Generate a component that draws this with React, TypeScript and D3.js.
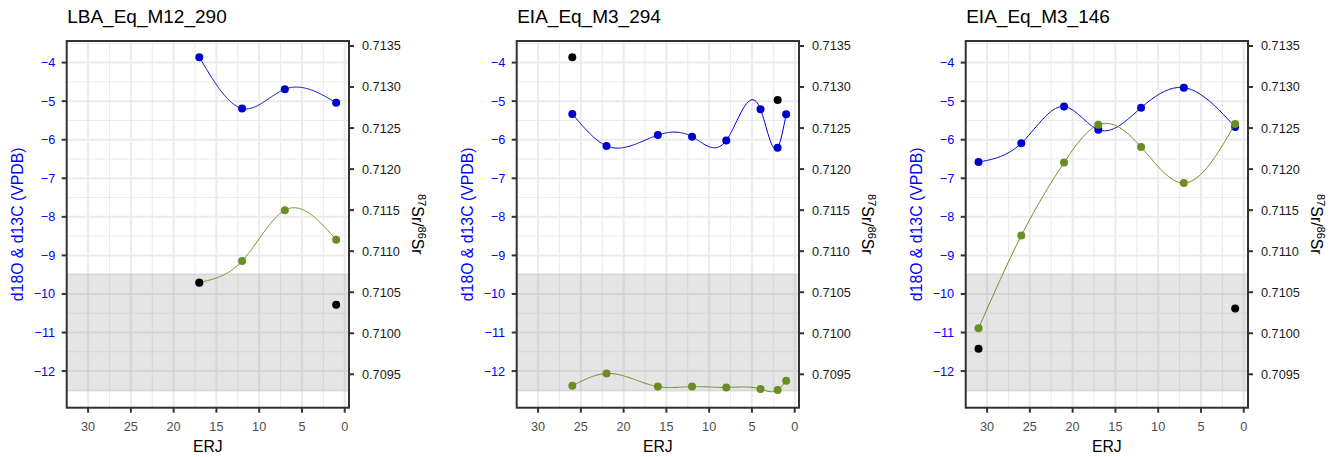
import React, { useEffect } from "react";
import * as d3 from "d3";

// ---------- data ----------
const panelTitles = ["LBA_Eq_M12_290", "EIA_Eq_M3_294", "EIA_Eq_M3_146"];

// blue series (primary axis, ‰ VPDB)
const blueErj1 = [17, 12, 7, 1];
const blueVal1 = [-3.86, -5.19, -4.69, -5.04];
const blueErj2 = [26, 22, 16, 12, 8, 4, 2, 1];
const blueVal2 = [-5.33, -6.16, -5.88, -5.92, -6.02, -5.21, -6.21, -5.34];
const blueErj3 = [31, 26, 21, 17, 12, 7, 1];
const blueVal3 = [-6.58, -6.09, -5.14, -5.74, -5.17, -4.65, -5.67];

// green series (87Sr/86Sr, secondary axis)
const srErj1 = [17, 12, 7, 1];
const srVal1 = [0.71062, 0.71088, 0.7115, 0.71114];
const srErj2 = [26, 22, 16, 12, 8, 4, 2, 1];
const srVal2 = [0.70936, 0.70951, 0.70935, 0.70935, 0.70934, 0.70932, 0.70931, 0.70942];
const srErj3 = [31, 26, 21, 17, 12, 7, 1];
const srVal3 = [0.71006, 0.71119, 0.71208, 0.71254, 0.71227, 0.71183, 0.71255];

// black points (primary axis)
const blackErj1 = [17, 1];
const blackVal1 = [-9.71, -10.28];
const blackErj2 = [26, 2];
const blackVal2 = [-3.86, -4.97];
const blackErj3 = [31, 1];
const blackVal3 = [-11.42, -10.38];

// shaded band (87Sr/86Sr)
const srBand = [0.70929, 0.71073];

// ticks
const xTicks = [30, 25, 20, 15, 10, 5, 0];
const xMinor = [32.5, 27.5, 22.5, 17.5, 12.5, 7.5, 2.5];
const yTicks = [-4, -5, -6, -7, -8, -9, -10, -11, -12];
const yMinor = [-3.5, -4.5, -5.5, -6.5, -7.5, -8.5, -9.5, -10.5, -11.5, -12.5];
const srTicks = [0.7135, 0.713, 0.7125, 0.712, 0.7115, 0.711, 0.7105, 0.71, 0.7095];

const xDomain = [32.5, -0.5];
const yDomain = [-12.95, -3.44];
const srDomain = [0.709093, 0.713561];

const panels = [
  { title: panelTitles[0], bx: blueErj1, by: blueVal1, sx: srErj1, sy: srVal1, kx: blackErj1, ky: blackVal1 },
  { title: panelTitles[1], bx: blueErj2, by: blueVal2, sx: srErj2, sy: srVal2, kx: blackErj2, ky: blackVal2 },
  { title: panelTitles[2], bx: blueErj3, by: blueVal3, sx: srErj3, sy: srVal3, kx: blackErj3, ky: blackVal3 },
];

// ---------- layout ----------
const W = 1341;
const H = 457;
const panelLefts = [66.7, 516.7, 965.7];
const panelW = 282.3;
const top = 41;
const bottom = 407.7;
const FONT = "'Liberation Sans', Arial, Helvetica, sans-serif";
const BLUE = "#0000CD";
const GREEN = "#6B8E23";

// natural cubic spline y(x)
function naturalSpline(xs: number[], ys: number[]) {
  const idx = xs.map((_, i) => i).sort((a, b) => xs[a] - xs[b]);
  const x = idx.map((i) => xs[i]);
  const y = idx.map((i) => ys[i]);
  const n = x.length;
  const h = d3.range(n - 1).map((i) => x[i + 1] - x[i]);
  const M = new Array(n).fill(0);
  if (n > 2) {
    const m = n - 2;
    const a = new Array(m).fill(0);
    const b = new Array(m).fill(0);
    const c = new Array(m).fill(0);
    const r = new Array(m).fill(0);
    for (let k = 0; k < m; k++) {
      const i = k + 1;
      a[k] = h[i - 1];
      b[k] = 2 * (h[i - 1] + h[i]);
      c[k] = h[i];
      r[k] = 6 * ((y[i + 1] - y[i]) / h[i] - (y[i] - y[i - 1]) / h[i - 1]);
    }
    for (let k = 1; k < m; k++) {
      const w = a[k] / b[k - 1];
      b[k] -= w * c[k - 1];
      r[k] -= w * r[k - 1];
    }
    const sol = new Array(m).fill(0);
    sol[m - 1] = r[m - 1] / b[m - 1];
    for (let k = m - 2; k >= 0; k--) sol[k] = (r[k] - c[k] * sol[k + 1]) / b[k];
    for (let k = 0; k < m; k++) M[k + 1] = sol[k];
  }
  return (u: number) => {
    let i = 0;
    while (i < n - 2 && u > x[i + 1]) i++;
    const hi = h[i];
    const A = x[i + 1] - u;
    const B = u - x[i];
    return (
      (M[i] * A * A * A) / (6 * hi) +
      (M[i + 1] * B * B * B) / (6 * hi) +
      (y[i] - (M[i] * hi * hi) / 6) * (A / hi) +
      (y[i + 1] - (M[i + 1] * hi * hi) / 6) * (B / hi)
    );
  };
}

function curvePath(
  xs: number[],
  ys: number[],
  sx: d3.ScaleLinear<number, number>,
  sy: d3.ScaleLinear<number, number>
) {
  const f = naturalSpline(xs, ys);
  const lo = d3.min(xs) as number;
  const hi = d3.max(xs) as number;
  const samples = d3.range(0, 201).map((k) => lo + ((hi - lo) * k) / 200);
  const line = d3
    .line<number>()
    .x((u) => sx(u))
    .y((u) => sy(f(u)));
  return line(samples) || "";
}

const fmtLeft = d3.format("d");
const fmtSr = d3.format(".4f");

function Panel({ p, left }: { p: any; left: number }) {
  const right = left + panelW;
  const x = d3.scaleLinear().domain(xDomain).range([left, right]);
  const y = d3.scaleLinear().domain(yDomain).range([bottom, top]);
  const ys = d3.scaleLinear().domain(srDomain).range([bottom, top]);
  const cx = (left + right) / 2;
  const cy = (top + bottom) / 2;
  return (
    <g>
      <text x={left + 0.5} y={23.3} fontSize={19} fill="#000" fontFamily={FONT}>
        {p.title}
      </text>
      <rect x={left} y={top} width={panelW} height={bottom - top} fill="#fff" />
      {/* minor grid */}
      {xMinor.map((v) => (
        <line key={"xm" + v} x1={x(v)} x2={x(v)} y1={top} y2={bottom} stroke="#EBEBEB" strokeWidth={1} />
      ))}
      {yMinor.map((v) => (
        <line key={"ym" + v} x1={left} x2={right} y1={y(v)} y2={y(v)} stroke="#EBEBEB" strokeWidth={1} />
      ))}
      {/* major grid */}
      {xTicks.map((v) => (
        <line key={"xg" + v} x1={x(v)} x2={x(v)} y1={top} y2={bottom} stroke="#EBEBEB" strokeWidth={2} />
      ))}
      {yTicks.map((v) => (
        <line key={"yg" + v} x1={left} x2={right} y1={y(v)} y2={y(v)} stroke="#EBEBEB" strokeWidth={2} />
      ))}
      {/* shaded band */}
      <rect
        x={left}
        y={ys(srBand[1])}
        width={panelW}
        height={ys(srBand[0]) - ys(srBand[1])}
        fill="#7F7F7F"
        fillOpacity={0.2}
      />
      {/* blue series */}
      <path d={curvePath(p.bx, p.by, x, y)} fill="none" stroke={BLUE} strokeWidth={1} />
      {p.bx.map((v: number, i: number) => (
        <circle key={"b" + i} cx={x(v)} cy={y(p.by[i])} r={4} fill={BLUE} />
      ))}
      {/* green series */}
      <path d={curvePath(p.sx, p.sy, x, ys)} fill="none" stroke={GREEN} strokeWidth={1} />
      {p.sx.map((v: number, i: number) => (
        <circle key={"g" + i} cx={x(v)} cy={ys(p.sy[i])} r={4} fill={GREEN} />
      ))}
      {/* black points */}
      {p.kx.map((v: number, i: number) => (
        <circle key={"k" + i} cx={x(v)} cy={y(p.ky[i])} r={4} fill="#000" />
      ))}
      {/* border */}
      <rect x={left} y={top} width={panelW} height={bottom - top} fill="none" stroke="#333333" strokeWidth={2} />
      {/* left axis */}
      {yTicks.map((v) => (
        <g key={"yl" + v}>
          <line x1={left - 5} x2={left} y1={y(v)} y2={y(v)} stroke="#333333" strokeWidth={2} />
          <text x={left - 11.5} y={y(v)} dy="0.35em" textAnchor="end" fontSize={12.7} fill="blue" fontFamily={FONT}>
            {fmtLeft(v)}
          </text>
        </g>
      ))}
      {/* right axis */}
      {srTicks.map((v) => (
        <g key={"yr" + v}>
          <line x1={right} x2={right + 5} y1={ys(v)} y2={ys(v)} stroke="#333333" strokeWidth={2} />
          <text x={right + 13} y={ys(v)} dy="0.35em" textAnchor="start" fontSize={12.7} fill="#1A1A1A" fontFamily={FONT}>
            {fmtSr(v)}
          </text>
        </g>
      ))}
      {/* bottom axis */}
      {xTicks.map((v) => (
        <g key={"xl" + v}>
          <line x1={x(v)} x2={x(v)} y1={bottom} y2={bottom + 5} stroke="#333333" strokeWidth={2} />
          <text x={x(v)} y={431} textAnchor="middle" fontSize={12.7} fill="#4D4D4D" fontFamily={FONT}>
            {v}
          </text>
        </g>
      ))}
      <text x={cx} y={452.3} textAnchor="middle" fontSize={15.8} fill="#000" fontFamily={FONT}>
        ERJ
      </text>
      <text
        transform={`translate(${left - 43.7},${cy}) rotate(-90)`}
        textAnchor="middle"
        fontSize={15.8}
        fill="blue"
        fontFamily={FONT}
      >
        d18O &amp; d13C (VPDB)
      </text>
      <text
        transform={`translate(${right + 63},${cy}) rotate(90)`}
        textAnchor="middle"
        fontSize={15.8}
        fill="#000"
        fontFamily={FONT}
      >
        <tspan fontSize={11} dy={-6}>87</tspan>
        <tspan dy={6}>Sr/</tspan>
        <tspan fontSize={11} dy={-6}>86</tspan>
        <tspan dy={6}>Sr</tspan>
      </text>
    </g>
  );
}

export default function App() {
  useEffect(() => {
    document.body.style.margin = "0";
  }, []);
  return (
    <svg
      width={W}
      height={H}
      viewBox={`0 0 ${W} ${H}`}
      style={{ position: "absolute", left: 0, top: 0, background: "#fff" }}
    >
      <rect x={0} y={0} width={W} height={H} fill="#fff" />
      {panels.map((p, i) => (
        <Panel key={i} p={p} left={panelLefts[i]} />
      ))}
    </svg>
  );
}
